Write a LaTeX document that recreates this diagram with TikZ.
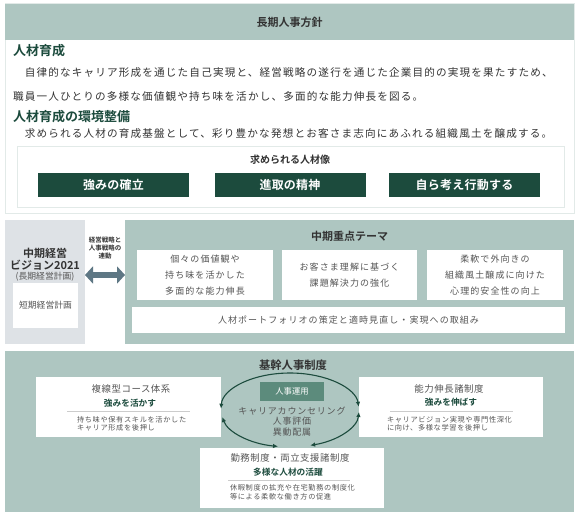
\documentclass[tikz,border=0pt]{standalone}
\usepackage{fontspec}
\setmainfont{Noto Sans CJK JP}[BoldFont={Noto Sans CJK JP Bold}]
\usetikzlibrary{arrows.meta}
\definecolor{sage}{HTML}{AEC6C1}
\definecolor{pine}{HTML}{1C4B3D}
\definecolor{jade}{HTML}{5C8B7C}
\definecolor{mist}{HTML}{DEE2E6}
\definecolor{frost}{HTML}{E2EAE8}
\definecolor{slate}{HTML}{5E7784}
\definecolor{ink}{HTML}{333333}
\definecolor{ash}{HTML}{555555}
\definecolor{rulegrey}{HTML}{CCCCCC}
\begin{document}
\begin{tikzpicture}[x=1pt,y=-1pt,
  every node/.style={inner sep=0pt,outer sep=0pt},
  panel/.style={fill=sage,anchor=north west},
  card/.style={fill=white},
  outline/.style={draw=frost,line width=1pt},
  pill/.style={fill=pine,text=white,minimum width=151pt,minimum height=24pt,
    font=\bfseries\fontsize{12}{14}\selectfont\addfontfeature{LetterSpace=2}},
  lead/.style={anchor=west,text=pine,font=\bfseries\fontsize{13}{15}\selectfont},
  prose/.style={anchor=west,text=ink,font=\fontsize{10.6}{12}\selectfont\addfontfeature{LetterSpace=11}},
  boxhead/.style={text=ink,font=\bfseries\fontsize{11}{13}\selectfont},
  cardtext/.style={text=ash,align=center,font=\fontsize{9}{16}\selectfont\addfontfeature{LetterSpace=12}},
  cardtitle/.style={text=ash,font=\fontsize{9.4}{11}\selectfont\addfontfeature{LetterSpace=6}},
  motto/.style={text=pine,font=\bfseries\fontsize{8.7}{10}\selectfont},
  smallnote/.style={anchor=west,align=left,text=ash,font=\fontsize{7.2}{8.5}\selectfont\addfontfeature{LetterSpace=9}},
  divider/.style={rulegrey,line width=0.7pt},
  link/.style={slate,line width=6pt,{Triangle[length=8pt,width=17pt]}-{Triangle[length=8pt,width=17pt]}},
  loopline/.style={pine,line width=1.1pt,{Latex[length=5pt,width=4.5pt]}-{Latex[length=5pt,width=4.5pt]}}
]
\fill[white] (0,0) rectangle (577,519);
\useasboundingbox (0,0) rectangle (577,519);

% long-term policy
\draw[outline] (5,4) rectangle (574,213);
\node[panel,boxhead,minimum width=569pt,minimum height=36pt] (policy) at (5,4) {長期人事方針};
\node[lead] (growth) at (13,51) {人材育成};
\node[prose] (growthA) at (13,73) {　自律的なキャリア形成を通じた自己実現と、経営戦略の遂行を通じた企業目的の実現を果たすため、};
\node[prose] (growthB) at (13,96) {職員一人ひとりの多様な価値観や持ち味を活かし、多面的な能力伸長を図る。};
\node[lead] (base) at (13,117) {人材育成の環境整備};
\node[prose] (baseA) at (13,133) {　求められる人材の育成基盤として、彩り豊かな発想とお客さま志向にあふれる組織風土を醸成する。};
\draw[outline] (17,146) rectangle (564,207);
\node[boxhead,font=\bfseries\fontsize{10}{12}\selectfont] (ideal) at (290,160) {求められる人材像};
\node[pill] (strength) at (113.5,185) {強みの確立};
\node[pill] (spirit) at (290,185) {進取の精神};
\node[pill] (action) at (464.5,185) {自ら考え行動する};

% mid-term
\node[panel,fill=mist,minimum width=80pt,minimum height=124pt] (vision) at (5,220) {};
\node[boxhead,align=center,font=\bfseries\fontsize{11}{12}\selectfont] (visiontitle) at (45,259.5) {中期経営\\ビジョン2021};
\node[text=ash,font=\fontsize{8.8}{10}\selectfont] (visionsub) at (45,277) {(長期経営計画)};
\node[card,text=ash,font=\fontsize{8.8}{10}\selectfont,minimum width=65pt,minimum height=45pt] (plan) at (45.5,305.5) {短期経営計画};
\node[panel,minimum width=449pt,minimum height=124pt] (theme) at (125,220) {};
\node[boxhead] (themetitle) at (349.5,236) {中期重点テーマ};
\node[text=ink,align=center,font=\bfseries\fontsize{6.5}{7.8}\selectfont] (linktext) at (105,248) {経営戦略と\\人事戦略の\\連動};
\draw[link] ([yshift=7pt]vision.east) -- ([yshift=7pt]theme.west);
\node[card,cardtext,minimum width=136pt,minimum height=50pt] (themeA) at (205,275) {個々の価値観や\\持ち味を活かした\\多面的な能力伸長};
\node[card,cardtext,minimum width=135pt,minimum height=50pt] (themeB) at (349.5,275) {お客さま理解に基づく\\課題解決力の強化};
\node[card,cardtext,minimum width=136pt,minimum height=50pt] (themeC) at (495,275) {柔軟で外向きの\\組織風土醸成に向けた\\心理的安全性の向上};
\node[card,cardtext,minimum width=433pt,minimum height=26pt] (portfolio) at (348.5,320) {人材ポートフォリオの策定と適時見直し・実現への取組み};

% core system
\node[panel,minimum width=569pt,minimum height=161pt] (core) at (5,351) {};
\node[boxhead,font=\bfseries\fontsize{11.3}{13}\selectfont] (coretitle) at (293,365) {基幹人事制度};

\node[card,minimum width=185pt,minimum height=60pt] (course) at (128.5,407) {};
\node[cardtitle] (coursename) at (131,389) {複線型コース体系};
\node[motto] (coursemotto) at (130,403) {強みを活かす};
\draw[divider] (67,411) -- (190,411);
\node[smallnote] (coursenote) at (77,424) {持ち味や保有スキルを活かした\\キャリア形成を後押し};

\node[card,minimum width=184pt,minimum height=60pt] (ability) at (451,407) {};
\node[cardtitle] (abilityname) at (449,389) {能力伸長諸制度};
\node[motto] (abilitymotto) at (451,402) {強みを伸ばす};
\draw[divider] (390,411) -- (513,411);
\node[smallnote] (abilitynote) at (387,424) {キャリアビジョン実現や専門性深化\\に向け、多様な学習を後押し};

\node[card,minimum width=184pt,minimum height=60pt] (work) at (292,478) {};
\node[cardtitle] (workname) at (290,458) {勤務制度・両立支援諸制度};
\node[motto] (workmotto) at (288,472) {多様な人材の活躍};
\draw[divider] (228,480) -- (350,480);
\node[smallnote] (worknote) at (230,492.5) {休暇制度の拡充や在宅勤務の制度化\\等による柔軟な働き方の促進};

\node[fill=jade,text=white,minimum width=64pt,minimum height=19pt,font=\fontsize{8.3}{10}\selectfont] (ops) at (292,391.5) {人事運用};
\node[text=ash,align=center,font=\fontsize{9}{10.5}\selectfont\addfontfeature{LetterSpace=9}] (opslist) at (292,421.5) {キャリアカウンセリング\\人事評価\\異動配属};

\coordinate (hub) at (290,410);
\draw[loopline] (hub) ++(182:69 and 37) arc[start angle=182,end angle=355,x radius=69,y radius=37];
\draw[loopline] (hub) ++(169:69 and 37) arc[start angle=169,end angle=100,x radius=69,y radius=37];
\draw[loopline] (hub) ++(3:69 and 37) arc[start angle=3,end angle=73,x radius=69,y radius=37];
\end{tikzpicture}
\end{document}
